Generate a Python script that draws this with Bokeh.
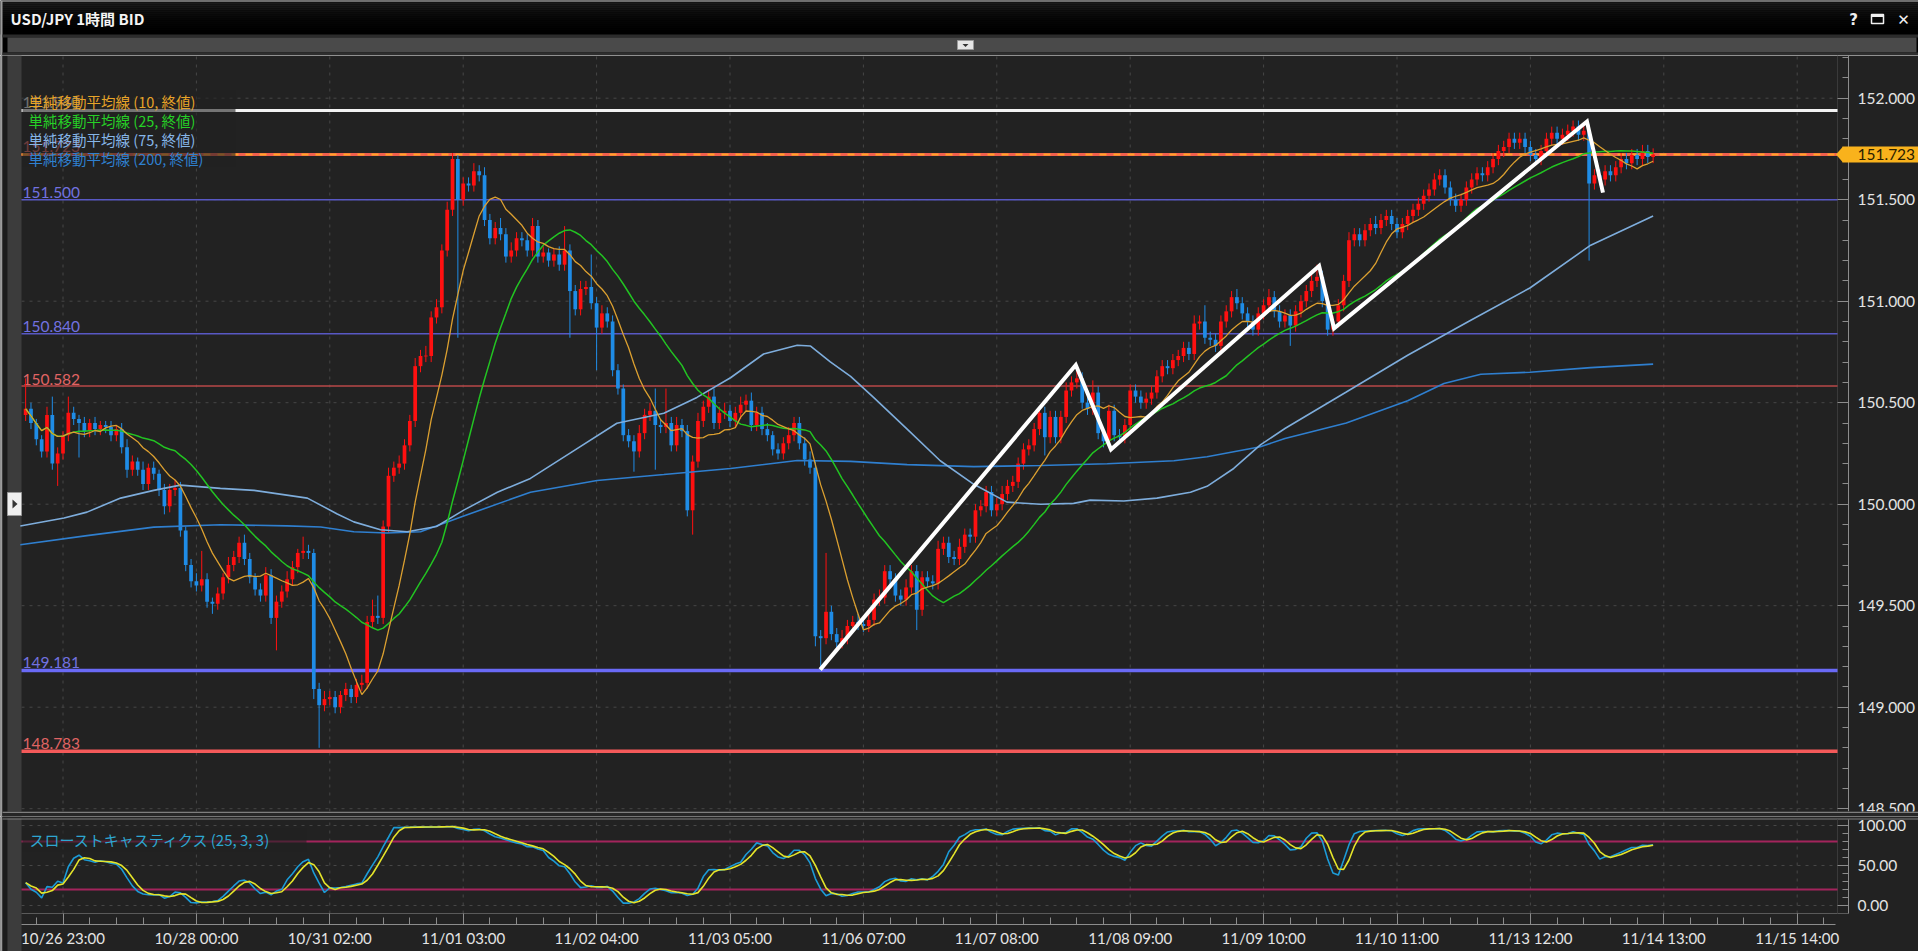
import numpy as np
import pandas as pd
from bokeh.plotting import figure
from bokeh.layouts import column
from bokeh.models import Range1d, FixedTicker, PrintfTickFormatter
from bokeh.core.properties import value
from bokeh.embed import file_html
from bokeh.resources import INLINE

# ---------------- data ----------------
FIRST_BAR = -7          # bar index of first candle; bar 0 = 10/26 23:00 (1 bar = 1 hour)
OPEN_FIRST = 150.44
CLOSE = [
    150.47, 150.40, 150.32, 150.26, 150.44, 150.20, 150.25, 150.34, 150.45, 150.42,
    150.40, 150.36, 150.40, 150.37, 150.39, 150.38, 150.34, 150.37, 150.28, 150.17,
    150.21, 150.17, 150.10, 150.18, 150.15, 150.07, 149.99, 150.07, 150.08, 149.87,
    149.70, 149.62, 149.60, 149.63, 149.52, 149.51, 149.56, 149.64, 149.70, 149.74,
    149.81, 149.73, 149.64, 149.58, 149.55, 149.65, 149.44, 149.52, 149.57, 149.63,
    149.69, 149.76, 149.77, 149.76, 149.09, 149.01, 149.04, 149.05, 149.00, 149.06,
    149.09, 149.05, 149.11, 149.12, 149.42, 149.45, 149.44, 149.89, 150.14, 150.18,
    150.20, 150.29, 150.41, 150.68, 150.73, 150.73, 150.92, 150.97, 151.25, 151.45,
    151.70, 151.50, 151.58, 151.57, 151.64, 151.62, 151.40, 151.31, 151.36, 151.33,
    151.22, 151.25, 151.31, 151.30, 151.25, 151.37, 151.22, 151.24, 151.20, 151.23,
    151.18, 151.25, 151.05, 150.96, 151.06, 151.07, 150.99, 150.87, 150.94, 150.90,
    150.66, 150.57, 150.34, 150.31, 150.26, 150.35, 150.44, 150.46, 150.39, 150.38,
    150.40, 150.29, 150.39, 150.36, 149.97, 150.21, 150.41, 150.48, 150.53, 150.40,
    150.45, 150.46, 150.41, 150.45, 150.49, 150.51, 150.39, 150.45, 150.37, 150.34,
    150.27, 150.25, 150.30, 150.34, 150.40, 150.30, 150.22, 150.18, 149.35, 149.34,
    149.47, 149.36, 149.32, 149.34, 149.40, 149.42, 149.41, 149.40, 149.43, 149.53,
    149.54, 149.67, 149.63, 149.55, 149.53, 149.59, 149.67, 149.48, 149.64, 149.62,
    149.61, 149.78, 149.81, 149.74, 149.73, 149.79, 149.85, 149.84, 149.97, 149.99,
    150.06, 149.97, 150.00, 150.05, 150.09, 150.11, 150.20, 150.27, 150.29, 150.37,
    150.45, 150.33, 150.43, 150.33, 150.43, 150.56, 150.60, 150.62, 150.50, 150.47,
    150.55, 150.35, 150.31, 150.46, 150.34, 150.33, 150.39, 150.56, 150.53, 150.50,
    150.52, 150.55, 150.63, 150.68, 150.67, 150.71, 150.73, 150.77, 150.74, 150.89,
    150.90, 150.82, 150.81, 150.78, 150.90, 150.95, 151.02, 150.99, 150.94, 150.90,
    150.86, 150.94, 150.98, 151.02, 150.95, 150.90, 150.93, 150.88, 150.95, 151.00,
    151.05, 151.10, 151.12, 151.00, 150.86, 150.90, 150.98, 151.10, 151.30, 151.33,
    151.30, 151.35, 151.38, 151.36, 151.40, 151.42, 151.38, 151.34, 151.38, 151.42,
    151.45, 151.48, 151.52, 151.55, 151.60, 151.62, 151.56, 151.50, 151.47, 151.50,
    151.56, 151.60, 151.63, 151.62, 151.66, 151.70, 151.74, 151.76, 151.80, 151.78,
    151.80, 151.76, 151.72, 151.70, 151.74, 151.80, 151.83, 151.80, 151.82, 151.84,
    151.86, 151.82, 151.84, 151.58, 151.62, 151.60, 151.64, 151.62, 151.66, 151.70,
    151.68, 151.72, 151.70, 151.74, 151.71, 151.723,
]
UPPER_WICK_PIPS = [
    15, 3, 2, 2, 4, 9, 3, 2, 8, 3,
    2, 3, 2, 3, 2, 2, 3, 2, 3, 4,
    3, 2, 4, 2, 3, 2, 3, 3, 4, 3,
    2, 3, 4, 14, 3, 2, 3, 2, 4, 3,
    3, 4, 3, 2, 3, 4, 3, 3, 3, 4,
    3, 2, 7, 3, 2, 3, 4, 3, 3, 2,
    3, 2, 3, 4, 3, 8, 10, 3, 4, 3,
    4, 3, 3, 4, 3, 5, 3, 4, 3, 4,
    3, 2, 3, 3, 4, 3, 4, 3, 3, 5,
    3, 4, 3, 3, 3, 4, 3, 3, 2, 3,
    4, 12, 3, 3, 4, 3, 16, 3, 4, 3,
    3, 3, 2, 3, 3, 4, 3, 4, 11, 3,
    17, 3, 4, 3, 3, 3, 4, 3, 3, 4,
    3, 4, 3, 3, 4, 3, 4, 3, 3, 3,
    2, 3, 3, 4, 3, 3, 3, 4, 3, 3,
    29, 3, 3, 4, 3, 3, 4, 3, 3, 3,
    4, 3, 3, 3, 3, 4, 3, 3, 3, 3,
    3, 4, 3, 3, 3, 4, 3, 3, 3, 3,
    3, 3, 3, 4, 3, 3, 3, 3, 3, 3,
    3, 3, 3, 3, 3, 4, 3, 5, 3, 4,
    6, 3, 3, 3, 3, 3, 3, 3, 3, 3,
    3, 3, 3, 3, 3, 3, 3, 3, 3, 4,
    3, 8, 3, 3, 3, 3, 3, 4, 3, 3,
    3, 3, 3, 4, 3, 3, 3, 3, 3, 3,
    3, 3, 6, 3, 3, 3, 3, 3, 4, 3,
    3, 3, 3, 4, 3, 3, 3, 3, 3, 3,
    3, 3, 3, 3, 3, 3, 3, 3, 3, 3,
    3, 3, 3, 3, 3, 3, 3, 3, 3, 3,
    3, 3, 3, 3, 3, 3, 3, 3, 3, 3,
    3, 3, 4, 3, 3, 3, 3, 3, 3, 3,
    3, 3, 3, 3, 3, 3,
]
LOWER_WICK_PIPS = [
    3, 3, 3, 3, 3, 3, 11, 3, 3, 3,
    17, 3, 3, 3, 3, 3, 3, 3, 3, 4,
    3, 3, 3, 3, 3, 3, 4, 3, 3, 3,
    3, 3, 3, 3, 3, 5, 3, 3, 3, 3,
    3, 3, 3, 3, 3, 3, 3, 16, 3, 3,
    3, 3, 3, 3, 5, 21, 3, 3, 3, 3,
    3, 3, 3, 3, 3, 3, 3, 3, 3, 3,
    3, 3, 3, 3, 3, 3, 3, 3, 3, 3,
    3, 68, 3, 3, 3, 3, 3, 3, 3, 3,
    3, 3, 3, 3, 3, 3, 3, 3, 3, 3,
    3, 3, 23, 3, 3, 3, 3, 21, 3, 3,
    3, 3, 3, 3, 10, 3, 3, 3, 22, 3,
    3, 3, 3, 3, 3, 12, 3, 3, 3, 3,
    3, 3, 3, 3, 3, 3, 3, 3, 3, 3,
    3, 3, 3, 3, 3, 3, 3, 3, 5, 16,
    3, 3, 3, 3, 3, 3, 3, 3, 3, 3,
    3, 3, 3, 3, 3, 3, 3, 10, 3, 3,
    3, 3, 3, 3, 3, 3, 3, 3, 3, 3,
    3, 3, 3, 3, 3, 3, 3, 3, 3, 3,
    3, 9, 3, 3, 3, 3, 3, 3, 3, 3,
    3, 3, 3, 3, 3, 3, 3, 3, 3, 3,
    3, 3, 3, 3, 3, 3, 3, 3, 3, 3,
    3, 3, 3, 3, 3, 3, 3, 3, 3, 3,
    3, 3, 3, 3, 3, 3, 3, 10, 3, 3,
    3, 3, 3, 3, 3, 3, 3, 3, 3, 3,
    3, 3, 3, 3, 3, 3, 3, 3, 3, 3,
    3, 3, 3, 3, 3, 3, 3, 3, 3, 3,
    3, 3, 3, 3, 3, 3, 3, 3, 3, 3,
    3, 3, 3, 3, 3, 3, 3, 3, 3, 3,
    3, 3, 3, 38, 3, 3, 3, 3, 3, 3,
    3, 3, 3, 3, 3, 3,
]

SMA75_BAR = [-8, 0.2, 4.5, 10.8, 17.0, 22.0, 29.5, 35.8, 45.8, 51.4, 54.5, 59.5, 64.5, 70,
             75.1, 81.4, 87.6, 95.1, 103.8, 112.6, 118.8, 125.1, 131.3, 137.6, 140.1, 143.8,
             147.6, 151.9, 158.2, 164.4, 170.7, 176.9, 183.2, 189.4, 192.5, 198.8, 205.0,
             211.3, 214.4, 219.4, 224.4, 229, 240.5, 252, 263.4, 274.9, 286.3, 298]
SMA75_VAL = [149.893, 149.932, 149.961, 150.030, 150.068, 150.094, 150.078, 150.068, 150.030,
             149.952, 149.913, 149.874, 149.864, 149.890, 149.971, 150.059, 150.127, 150.253,
             150.399, 150.448, 150.526, 150.623, 150.740, 150.783, 150.779, 150.701, 150.630,
             150.526, 150.370, 150.214, 150.098, 150.010, 150.000, 150.004, 150.020, 150.016,
             150.030, 150.059, 150.088, 150.176, 150.292, 150.373, 150.553, 150.734, 150.900,
             151.065, 151.276, 151.420]
SMA200_BAR = [-8, 4.5, 17.0, 29.5, 42.0, 48.3, 54.5, 60.7, 67.0, 75.1, 87.6, 100.1, 112.6,
              125.1, 137.6, 147.6, 158.2, 170.7, 183.2, 195.7, 208.2, 214.4, 224.4, 229,
              240.5, 252, 258.8, 265.7, 274.9, 286.3, 298]
SMA200_VAL = [149.800, 149.845, 149.887, 149.899, 149.893, 149.888, 149.864, 149.858, 149.864,
              149.942, 150.059, 150.117, 150.146, 150.176, 150.215, 150.211, 150.195, 150.185,
              150.191, 150.199, 150.214, 150.234, 150.283, 150.324, 150.400, 150.510, 150.595,
              150.640, 150.650, 150.673, 150.690]

LEVEL_PRICES = [151.940, 151.723, 151.500, 150.840, 150.582, 149.181, 148.783]
LEVEL_LABELS = ["151.940", "151.723", "151.500", "150.840", "150.582", "149.181", "148.783"]
LEVEL_COLORS = ["#f2f2f2", "#f0604e", "#5858c4", "#5858c4", "#b84848", "#6a6af6", "#f45a5a"]
LEVEL_LABEL_COLORS = ["#e8e8e8", "#e06464", "#7272e0", "#7272e0", "#e06464", "#7272e0", "#e06464"]
LEVEL_WIDTHS = [3, 3, 1.5, 1.5, 1.5, 3.5, 3.5]
LAST_PRICE = 151.723
LAST_PRICE_TEXT = "151.723"

ZIGZAG_BAR = [141.9, 189.8, 196.4, 235.4, 238.2, 285.6, 288.6]
ZIGZAG_PRICE = [149.185, 150.686, 150.270, 151.174, 150.866, 151.885, 151.535]

MA_LEGEND = ["単純移動平均線 (10, 終値)", "単純移動平均線 (25, 終値)",
             "単純移動平均線 (75, 終値)", "単純移動平均線 (200, 終値)"]
MA_COLORS = ["#dca030", "#22c422", "#7eaddc", "#2f7fcf"]
MA_TEXT_COLORS = ["#e8a428", "#26d026", "#86b6e8", "#2f80d0"]
STOCH_LEGEND = "スローストキャスティクス (25, 3, 3)"
TITLE = "USD/JPY 1時間 BID"

X_TICK_BARS = [0, 25, 50, 75, 100, 125, 150, 175, 200, 225, 250, 275, 300, 325]
X_TICK_LABELS = ["10/26 23:00", "10/28 00:00", "10/31 02:00", "11/01 03:00", "11/02 04:00",
                 "11/03 05:00", "11/06 07:00", "11/07 08:00", "11/08 09:00", "11/09 10:00",
                 "11/10 11:00", "11/13 12:00", "11/14 13:00", "11/15 14:00"]
X_MINOR_BARS = list(range(-5, 335, 5))
PRICE_TICKS = [148.5, 149.0, 149.5, 150.0, 150.5, 151.0, 151.5, 152.0]
PRICE_MINOR = [round(148.5 + 0.1 * i, 1) for i in range(38)]
STOCH_TICKS = [0, 50, 100]
STOCH_MINOR = [0, 10, 20, 30, 40, 50, 60, 70, 80, 90, 100]
STOCH_LEVELS = [80, 20]

# ---------------- derived series ----------------
n = len(CLOSE)
bars = np.arange(FIRST_BAR, FIRST_BAR + n)
close = np.array(CLOSE)
open_ = np.concatenate([[OPEN_FIRST], close[:-1]])
high = np.maximum(open_, close) + np.array(UPPER_WICK_PIPS) / 100.0
low = np.minimum(open_, close) - np.array(LOWER_WICK_PIPS) / 100.0
up = close >= open_
s = pd.Series(close)
sma10 = s.rolling(10, min_periods=1).mean().values
sma25 = s.rolling(25, min_periods=1).mean().values
hh = pd.Series(high).rolling(25, min_periods=1).max()
ll = pd.Series(low).rolling(25, min_periods=1).min()
fast_k = 100 * (s - ll) / (hh - ll)
slow_k = fast_k.rolling(3, min_periods=1).mean().values
slow_d = pd.Series(slow_k).rolling(3, min_periods=1).mean().values

# ---------------- geometry (page pixels) ----------------
W, H = 1918, 951
BAR0_PX, BAR_PX = 62.5, 5.336
P_REF, P_REF_PX, PX_PER_YEN = 152.0, 97.7, 203.0
S_ZERO_PX, S_PX_PER = 905.0, 0.8
FRAME_R, INNER_R, PLOT_L = 1848, 1837, 21
TOP_B, MAIN_B, STO_T = 55, 816, 816


def bx(px):
    return (px - BAR0_PX) / BAR_PX


def py(p):
    return P_REF - (p - P_REF_PX) / PX_PER_YEN


def sy(p):
    return (S_ZERO_PX - p) / S_PX_PER


BG = "#222222"
GRID = "#474747"
AXIS = "#8c8c8c"
LBL = "#e4e4e4"
common = dict(toolbar_location=None, output_backend="svg", min_border=0,
              outline_line_color=None)


def gutter(fig, ymap, y_top_px, y_bot_px):
    fig.quad(left=bx(0), right=bx(2), top=ymap(y_top_px), bottom=ymap(y_bot_px), fill_color="#9c9c9c", line_color=None)
    fig.quad(left=bx(2), right=bx(7), top=ymap(y_top_px), bottom=ymap(y_bot_px), fill_color="#1c1c1c", line_color=None)
    fig.quad(left=bx(7), right=bx(PLOT_L), top=ymap(y_top_px), bottom=ymap(y_bot_px), fill_color="#3c3c3c", line_color=None)


# ---------------- title bar ----------------
top = figure(width=W, height=TOP_B, x_range=Range1d(0, W), y_range=Range1d(TOP_B, 0),
             x_axis_location=None, y_axis_location=None, background_fill_color="#000000",
             border_fill_color="#000000", **common)
top.xgrid.visible = False
top.ygrid.visible = False
shades = ["#1e1e1e", "#1b1b1b", "#181818", "#151515", "#121212", "#0f0f0f", "#0c0c0c", "#0a0a0a",
          "#080808", "#060606", "#050505", "#040404", "#030303", "#020202", "#010101", "#000000", "#000000"]
for i, c in enumerate(shades):
    top.quad(left=0, right=W, top=2 * i, bottom=2 * i + 2, fill_color=c, line_color=None)
top.quad(left=0, right=W, top=0, bottom=1.2, fill_color="#8a8a8a", line_color=None)
top.quad(left=0, right=2, top=0, bottom=TOP_B, fill_color="#9c9c9c", line_color=None)
top.quad(left=2, right=W, top=34, bottom=37, fill_color="#2c2c2c", line_color=None)
top.quad(left=7, right=1916, top=37, bottom=52, fill_color="#4a4a4a", line_color=None)
top.quad(left=2, right=W, top=52, bottom=TOP_B, fill_color="#2e2e2e", line_color=None)
top.quad(left=957, right=973, top=40, bottom=49, fill_color="#e6e6e6", line_color="#9a9a9a")
top.patch(x=[962, 968, 965], y=[43.5, 43.5, 46.5], fill_color="#333333", line_color=None)
top.text(x=[10], y=[17.5], text=[TITLE], text_font=value("Noto Sans CJK JP"),
         text_font_style=value("bold"), text_font_size="15px", text_color="#f4f4f4",
         text_baseline="middle", text_align="left")
top.text(x=[1853], y=[19], text=["?"], text_font=value("DejaVu Sans"), text_font_style=value("bold"),
         text_font_size="15px", text_color="#f0f0f0", text_baseline="middle", text_align="center")
top.quad(left=1871, right=1883, top=14, bottom=23, fill_color=None, line_color="#f0f0f0", line_width=1.5)
top.quad(left=1871, right=1883, top=14, bottom=16.5, fill_color="#f0f0f0", line_color=None)
top.text(x=[1903], y=[19], text=["✕"], text_font=value("DejaVu Sans"), text_font_style=value("bold"),
         text_font_size="15px", text_color="#f0f0f0", text_baseline="middle", text_align="center")

# ---------------- main price panel ----------------
xr = Range1d(bx(0), bx(W))
main = figure(width=W, height=MAIN_B - TOP_B, x_range=xr, y_range=Range1d(py(MAIN_B), py(TOP_B)),
              x_axis_location=None, y_axis_location="right", background_fill_color=BG,
              border_fill_color=BG, **common)
main.xgrid.visible = False
main.ygrid.visible = False
ya = main.yaxis[0]
ya.fixed_location = bx(FRAME_R)
ya.bounds = (py(811), py(TOP_B))
ya.ticker = FixedTicker(ticks=PRICE_TICKS, minor_ticks=PRICE_MINOR)
ya.formatter = PrintfTickFormatter(format="%.3f")
ya.major_tick_in, ya.major_tick_out, ya.minor_tick_in, ya.minor_tick_out = 11, 0, 6, 0
ya.axis_line_color = AXIS
ya.major_tick_line_color = AXIS
ya.minor_tick_line_color = AXIS
ya.major_label_text_color = LBL
ya.major_label_text_font = "Lato"
ya.major_label_text_font_size = "15.5px"
ya.major_label_standoff = 9

# grid lines (dashed) at the tick positions
main.segment(x0=X_TICK_BARS, x1=X_TICK_BARS, y0=py(811), y1=py(TOP_B), line_color=GRID, line_dash="3 5")
main.segment(x0=bx(PLOT_L), x1=bx(INNER_R), y0=PRICE_TICKS, y1=PRICE_TICKS, line_color=GRID, line_dash="3 5")
main.segment(x0=bx(INNER_R), x1=bx(INNER_R), y0=py(811), y1=py(TOP_B), line_color="#3a3a3a", line_width=1)
gutter(main, py, TOP_B, MAIN_B)
main.quad(left=bx(7), right=bx(PLOT_L), top=py(492), bottom=py(515), fill_color="#efefef", line_color="#999999")
main.patch(x=[bx(12), bx(12), bx(17)], y=[py(499), py(508), py(503.5)], fill_color="#333333", line_color=None)

# horizontal levels
for pr, col, w in zip(LEVEL_PRICES, LEVEL_COLORS, LEVEL_WIDTHS):
    main.segment(x0=bx(PLOT_L), x1=bx(INNER_R), y0=pr, y1=pr, line_color=col, line_width=w)
main.segment(x0=bx(PLOT_L), x1=bx(INNER_R), y0=LAST_PRICE, y1=LAST_PRICE, line_color="#ffa526",
             line_width=2, line_dash="7 7")
lab_y = [pr + (6 + w / 2) / PX_PER_YEN for pr, w in zip(LEVEL_PRICES, LEVEL_WIDTHS)]
main.text(x=[bx(22)] * len(LEVEL_LABELS), y=lab_y, text=LEVEL_LABELS, text_color=LEVEL_LABEL_COLORS,
          text_font=value("Lato"), text_font_size="15.5px", text_baseline="alphabetic", text_align="left")

# candles
col = np.where(up, "#ff1010", "#1f8ce6")
body_top = np.maximum(open_, close)
body_bot = np.minimum(open_, close)
flat = (body_top - body_bot) < 0.004
body_top = np.where(flat, body_top + 0.002, body_top)
body_bot = np.where(flat, body_bot - 0.002, body_bot)
main.segment(x0=bars, x1=bars, y0=low, y1=high, line_color=col, line_width=1)
main.vbar(x=bars, width=0.7, top=body_top, bottom=body_bot, fill_color=col, line_color=None)

# moving averages
main.line(SMA200_BAR, SMA200_VAL, line_color=MA_COLORS[3], line_width=1.6)
main.line(SMA75_BAR, SMA75_VAL, line_color=MA_COLORS[2], line_width=1.6)
main.line(bars, sma25, line_color=MA_COLORS[1], line_width=1.5)
main.line(bars, sma10, line_color=MA_COLORS[0], line_width=1.3)

# hand-drawn zigzag
main.line(ZIGZAG_BAR, ZIGZAG_PRICE, line_color="#ffffff", line_width=4, line_join="miter")

# legend block
main.quad(left=bx(PLOT_L + 1), right=bx(235), top=py(90), bottom=py(166), fill_color=BG,
          fill_alpha=0.6, line_color=None)
main.text(x=[bx(28)] * 4, y=[py(100.5), py(119.5), py(138.8), py(157.8)], text=MA_LEGEND,
          text_color=MA_TEXT_COLORS, text_font=value("Noto Sans CJK JP"), text_font_size="14.5px",
          text_baseline="middle", text_align="left")

# last price tag (drawn above the axis)
tag_h = 8 / PX_PER_YEN
main.patch(x=[bx(1835.5), bx(1842.5), bx(1842.5)], y=[LAST_PRICE, LAST_PRICE + tag_h, LAST_PRICE - tag_h],
           fill_color="#f9b21c", line_color=None, level="overlay")
main.quad(left=bx(1842), right=bx(W), top=LAST_PRICE + tag_h, bottom=LAST_PRICE - tag_h,
          fill_color="#f9b21c", line_color=None, level="overlay")
main.text(x=[bx(1857)], y=[LAST_PRICE], text=[LAST_PRICE_TEXT], text_font=value("Lato"),
          text_font_size="15.5px", text_color="#2a2000", text_baseline="middle", text_align="left",
          level="overlay")

# separator (top half)
main.quad(left=bx(2), right=bx(W), top=py(811), bottom=py(MAIN_B), fill_color="#262626",
          line_color=None, level="overlay")
main.segment(x0=bx(2), x1=bx(W), y0=py(811.8), y1=py(811.8), line_color="#7e7e7e", line_width=1.2,
             level="overlay")

# ---------------- stochastic panel ----------------
sto = figure(width=W, height=H - STO_T, x_range=xr, y_range=Range1d(sy(H), sy(STO_T)),
             x_axis_location="below", y_axis_location="right", background_fill_color=BG,
             border_fill_color=BG, **common)
sto.xgrid.visible = False
sto.ygrid.visible = False
xa = sto.xaxis[0]
xa.fixed_location = sy(924)
xa.bounds = (bx(PLOT_L), bx(1835))
xa.ticker = FixedTicker(ticks=X_TICK_BARS, minor_ticks=X_MINOR_BARS)
xa.major_label_overrides = {b: t for b, t in zip(X_TICK_BARS, X_TICK_LABELS)}
xa.major_tick_in, xa.major_tick_out, xa.minor_tick_in, xa.minor_tick_out = 11, 0, 7, 0
xa.axis_line_color = AXIS
xa.major_tick_line_color = AXIS
xa.minor_tick_line_color = AXIS
xa.major_label_text_color = LBL
xa.major_label_text_font = "Lato"
xa.major_label_text_font_size = "15px"
xa.major_label_standoff = 4
sya = sto.yaxis[0]
sya.fixed_location = bx(FRAME_R)
sya.bounds = (sy(913), sy(819))
sya.ticker = FixedTicker(ticks=STOCH_TICKS, minor_ticks=STOCH_MINOR)
sya.formatter = PrintfTickFormatter(format="%.2f")
sya.major_tick_in, sya.major_tick_out, sya.minor_tick_in, sya.minor_tick_out = 11, 0, 6, 0
sya.axis_line_color = AXIS
sya.major_tick_line_color = AXIS
sya.minor_tick_line_color = AXIS
sya.major_label_text_color = LBL
sya.major_label_text_font = "Lato"
sya.major_label_text_font_size = "15.5px"
sya.major_label_standoff = 9

sto.segment(x0=X_TICK_BARS, x1=X_TICK_BARS, y0=sy(913), y1=sy(819), line_color=GRID, line_dash="3 5")
sto.segment(x0=bx(PLOT_L), x1=bx(INNER_R), y0=STOCH_TICKS, y1=STOCH_TICKS, line_color=GRID, line_dash="3 5")
gutter(sto, sy, STO_T, H)
sto.quad(left=bx(2), right=bx(W), top=sy(STO_T), bottom=sy(818), fill_color="#262626", line_color=None)
sto.segment(x0=bx(2), x1=bx(W), y0=sy(818.5), y1=sy(818.5), line_color="#7e7e7e", line_width=1.2)
sto.segment(x0=bx(PLOT_L), x1=bx(FRAME_R), y0=sy(913), y1=sy(913), line_color="#5a5a5a", line_width=1)
sto.segment(x0=bx(INNER_R), x1=bx(INNER_R), y0=sy(913), y1=sy(819), line_color="#3a3a3a", line_width=1)
for lv in STOCH_LEVELS:
    sto.segment(x0=bx(PLOT_L), x1=bx(INNER_R), y0=lv, y1=lv, line_color="#a3245c", line_width=2.2)
sto.line(bars, slow_k, line_color="#1c9bd6", line_width=1.6)
sto.line(bars, slow_d, line_color="#e4e42a", line_width=1.6)
sto.quad(left=bx(PLOT_L + 1), right=bx(306), top=sy(828), bottom=sy(851), fill_color=BG,
         fill_alpha=0.6, line_color=None)
sto.text(x=[bx(29)], y=[sy(839)], text=[STOCH_LEGEND], text_color="#2ea6d0",
         text_font=value("Noto Sans CJK JP"), text_font_size="15px", text_baseline="middle",
         text_align="left")

p = column(top, main, sto, spacing=0)
open("out.html", "w").write(file_html(p, INLINE))
